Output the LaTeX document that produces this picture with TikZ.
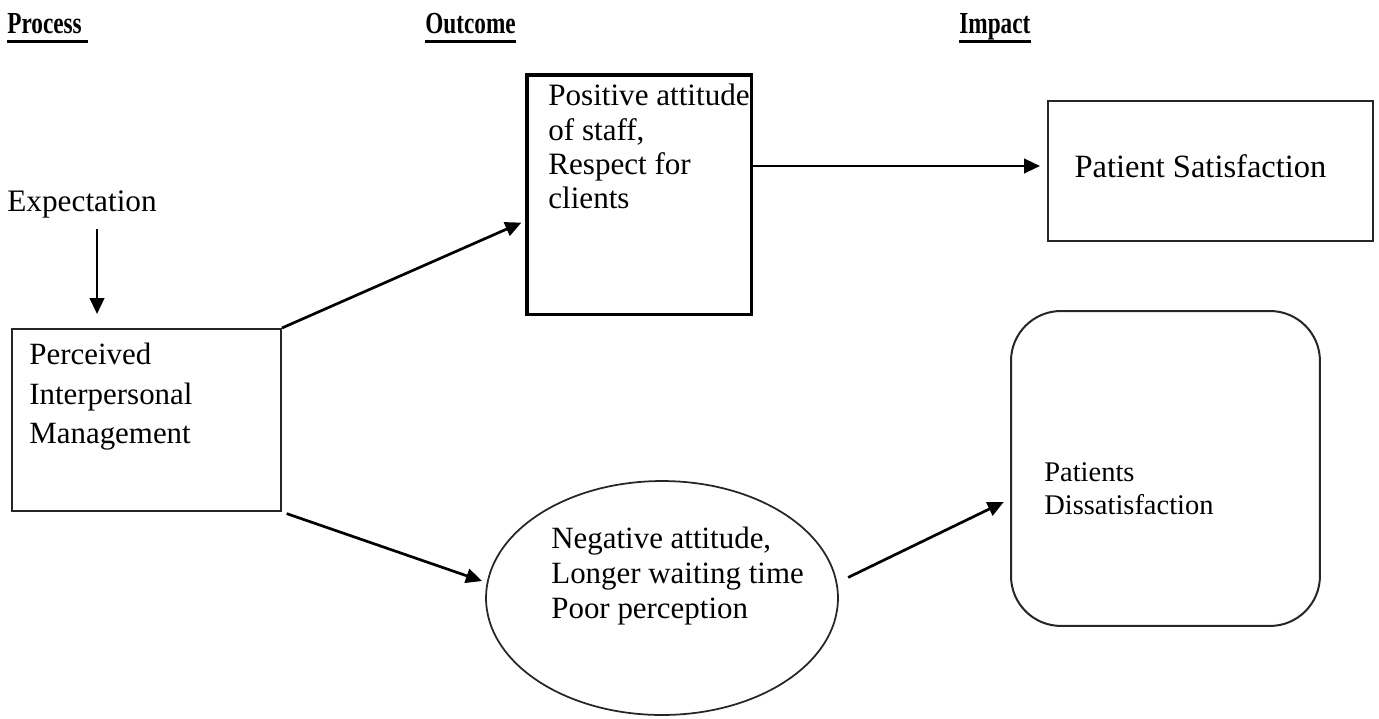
\documentclass[tikz,border=0pt]{standalone}
\usepackage{fontspec}
\setmainfont{Liberation Serif}
\usepackage{graphicx}
\usetikzlibrary{arrows.meta, calc, positioning, shapes.geometric}

\tikzset{
  hdr/.style={inner sep=0pt, anchor=base west, font=\fontsize{17.4}{20}\selectfont\bfseries},
  hdrule/.style={line width=0.06cm},
  txt/.style={inner sep=0pt, anchor=north west, align=left},
  boxthin/.style={draw=black!85, line width=0.04cm, anchor=north west},
  arr/.style={line width=0.054cm, -{Triangle[length=0.32cm, width=0.29cm]}}
}

\begin{document}
\begin{tikzpicture}[x=0.02cm, y=-0.02cm]
\useasboundingbox (0,0) rectangle (1379,718);
% column headings
\node[hdr] (hproc) at (7,33) {\scalebox{0.76}[1]{Process\ }};
\node[hdr] (hout) at (425,33) {\scalebox{0.76}[1]{Outcome}};
\node[hdr] (himp) at (959,33) {\scalebox{0.76}[1]{Impact}};
\draw[hdrule] ([yshift=-0.16cm]hproc.base west) -- ([yshift=-0.16cm]hproc.base east);
\draw[hdrule] ([yshift=-0.16cm]hout.base west) -- ([yshift=-0.16cm]hout.base east);
\draw[hdrule] ([yshift=-0.16cm]himp.base west) -- ([yshift=-0.16cm]himp.base east);

% process
\node[inner sep=0pt, anchor=base west, font=\fontsize{17.8}{20}\selectfont] (exp) at (7,211) {Expectation};
\node[boxthin, minimum width=5.38cm, minimum height=3.64cm] (per) at (11,328) {};
\node[txt, font=\fontsize{17.6}{22.5}\selectfont] (pertxt) at ([shift={(18,15)}]per.north west)
  {Perceived\\Interpersonal\\Management};

% outcome
\node[draw, line width=0.07cm, minimum width=4.5cm, minimum height=4.8cm, anchor=north west] (out) at (525,73) {};
\node[txt, font=\fontsize{17.7}{19.4}\selectfont] (outtxt) at ([shift={(23,11)}]out.north west)
  {Positive attitude\\of staff,\\Respect for\\clients};
\node[ellipse, draw=black!85, line width=0.035cm, minimum width=7.04cm, minimum height=4.68cm] (ell) at (662,598) {};
\node[txt, font=\fontsize{17.6}{19.9}\selectfont] (elltxt) at ([shift={(-111,-71)}]ell.center)
  {Negative attitude,\\Longer waiting time\\Poor perception};

% impact
\node[boxthin, minimum width=6.5cm, minimum height=2.8cm] (sat) at (1047,100) {};
\node[font=\fontsize{18.5}{22}\selectfont] (sattxt) at ([shift={(-10,-5)}]sat.center) {Patient Satisfaction};
\node[boxthin, rounded corners=1cm, minimum width=6.18cm, minimum height=6.3cm] (dis) at (1010,310) {};
\node[txt, font=\fontsize{16.2}{18.8}\selectfont] (distxt) at ([shift={(34,152)}]dis.north west)
  {Patients\\Dissatisfaction};

% arrows
\draw[arr, shorten <=0.22cm, shorten >=0.28cm] ([xshift=0.3cm]exp.south) -- ([xshift=0.3cm]exp.south |- per.north);
\draw[arr, shorten >=0.08cm] (per.north east) -- ($(out.north west)!0.608!(out.south west)$);
\draw[arr, shorten >=0.14cm] (out.east |- sattxt) -- (sat.west |- sattxt);
\draw[arr, shorten <=0.1cm, shorten >=0.1cm] (per.south east) -- (ell.175);
\draw[arr, shorten <=0.24cm, shorten >=0.14cm] (ell.5) -- ([yshift=-0.61cm]dis.west);
\end{tikzpicture}
\end{document}
